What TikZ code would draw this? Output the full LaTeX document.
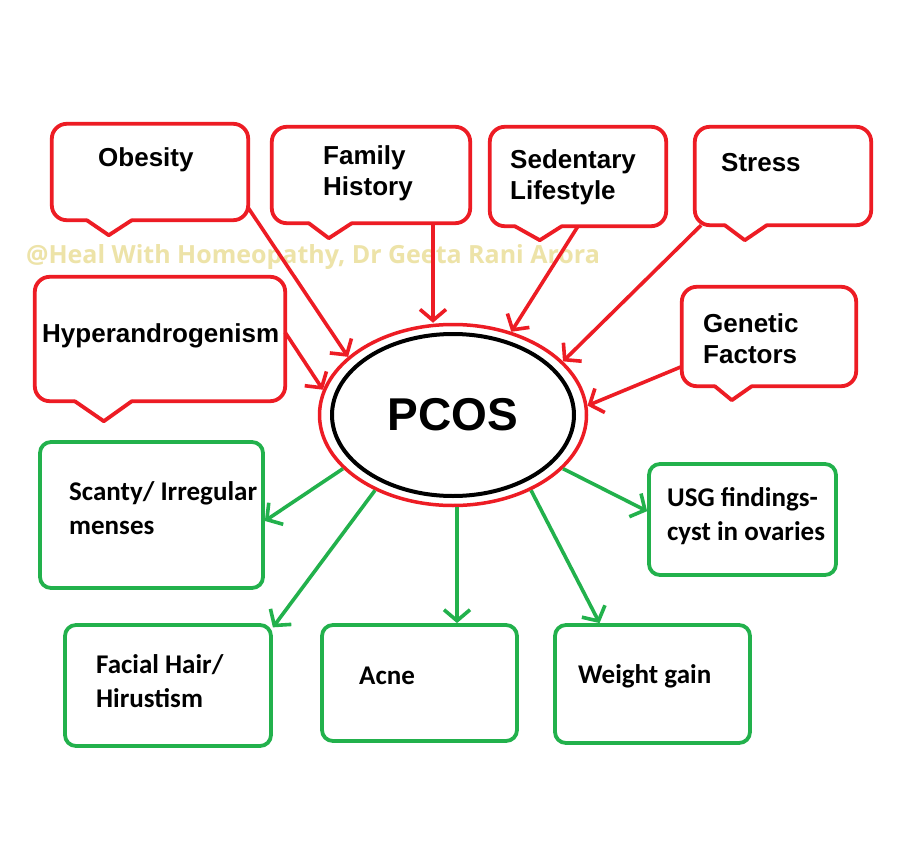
\documentclass[tikz,border=0pt]{standalone}
\usepackage{fontspec}
\setmainfont{Liberation Sans}
\newfontfamily\calibrifont{Carlito}
\newfontfamily\markfont{Open Sans}
\usetikzlibrary{arrows.meta,shapes.geometric}

\definecolor{paintred}{RGB}{237,28,36}
\definecolor{paintgreen}{RGB}{34,177,76}
\definecolor{markcolor}{RGB}{237,227,168}

% outline of a red speech bubble round an empty node: #2 left of tail, #3 tip, #4 right of tail, #5 depth
\newcommand{\calloutframe}[5]{%
  \draw[bubble line] ([xshift=#4pt]#1.south west) -- (#1.south east) -- (#1.north east) -- (#1.north west) -- (#1.south west) -- ([xshift=#2pt]#1.south west);
  \draw[bubble line, sharp corners] ([xshift=#2pt]#1.south west) -- ([xshift=#3pt,yshift=-#5pt]#1.south west) -- ([xshift=#4pt]#1.south west);}

\begin{document}
\begin{tikzpicture}[x=1pt, y=-1pt,
    bubble line/.style={paintred, line width=3.8pt, rounded corners=15pt, line cap=round, line join=round},
    cause box/.style={rectangle, inner sep=0pt},
    effect box/.style={rectangle, draw=paintgreen, line width=3.8pt, rounded corners=11pt, inner sep=0pt},
    cause text/.style={font=\bfseries\fontsize{26}{31}\selectfont, align=left, anchor=west, inner sep=0pt},
    effect text/.style={font=\calibrifont\bfseries\fontsize{27}{34}\selectfont, align=left, anchor=west, inner sep=0pt},
    cause arrow/.style={paintred, line width=3.6pt, -{Straight Barb[length=11pt,width=26pt]}},
    effect arrow/.style={paintgreen, line width=3.6pt, -{Straight Barb[length=11pt,width=26pt]}}]

  % page
  \path[use as bounding box, fill=white] (0,0) rectangle (900,867);

  % watermark
  \node[font=\markfont\bfseries\fontsize{25}{30}\selectfont, text=markcolor, inner sep=0pt] (mark) at (313,257) {@Heal With Homeopathy, Dr Geeta Rani Arora};

  % causes
  \node[cause box, minimum width=196pt, minimum height=96pt] (obesity) at (150,172) {};
  \node[cause box, minimum width=198pt, minimum height=96pt] (family) at (371,175) {};
  \node[cause box, minimum width=250pt, minimum height=124pt] (hyper) at (160,339) {};
  \node[cause box, minimum width=176pt, minimum height=99pt] (sedentary) at (578,176.5) {};
  \node[cause box, minimum width=176pt, minimum height=98pt] (stress) at (783,176) {};
  \node[cause box, minimum width=174pt, minimum height=99pt] (genetic) at (769,336.5) {};
  \calloutframe{obesity}{35}{57}{80}{15}
  \calloutframe{family}{37}{57}{80}{15}
  \calloutframe{hyper}{40}{69}{97}{20}
  \calloutframe{sedentary}{25}{50}{72}{14}
  \calloutframe{stress}{30}{50}{72}{15}
  \calloutframe{genetic}{33}{50}{70}{14}

  \node[cause text] (obesity-text) at (98,160) {Obesity};
  \node[cause text] (family-text) at (323,173) {Family\\History};
  \node[cause text] (hyper-text) at (42,336) {Hyperandrogenism};
  \node[cause text] (sedentary-text) at (510,177) {Sedentary\\Lifestyle};
  \node[cause text] (stress-text) at (721,162.5) {Stress};
  \node[cause text] (genetic-text) at (703,338.5) {Genetic\\Factors};

  % centre
  \node[ellipse, draw=paintred, line width=3.5pt, inner sep=0pt, minimum width=267pt, minimum height=181pt,
        font=\bfseries\fontsize{46}{50}\selectfont] (pcos) at (453,415) {PCOS};
  \draw[line width=4pt] (pcos.center) ellipse [x radius=121pt, y radius=81pt];

  % effects
  \node[effect box, minimum width=223pt, minimum height=146pt] (scanty) at (151.5,515) {};
  \node[effect box, minimum width=187pt, minimum height=111pt] (usg) at (742.5,519.5) {};
  \node[effect box, minimum width=206pt, minimum height=121pt] (facial) at (168,685.5) {};
  \node[effect box, minimum width=195pt, minimum height=116pt] (acne) at (419.5,683) {};
  \node[effect box, minimum width=195pt, minimum height=118pt] (weight) at (652.5,684) {};

  \node[effect text] (scanty-text) at (69,508.5) {Scanty/ Irregular\\menses};
  \node[effect text] (usg-text) at (667,516) {USG findings-\\cyst in ovaries};
  \node[effect text] (facial-text) at (96,681) {Facial Hair/\\Hirustism};
  \node[effect text] (acne-text) at (359,675.5) {Acne};
  \node[effect text] (weight-text) at (578,676) {Weight gain};

  % arrows into PCOS
  \draw[cause arrow] (obesity.-20) -- (pcos.151);
  \draw[cause arrow] ([xshift=62pt]family.south) -- ([xshift=62pt]family.south |- pcos.north);
  \draw[cause arrow] (hyper.3) -- (pcos.169);
  \draw[cause arrow] (sedentary.south) -- (pcos.55);
  \draw[cause arrow] (stress.211) -- (pcos.26);
  \draw[cause arrow] (genetic.199) -- (pcos.4);

  % arrows out of PCOS
  \draw[effect arrow] (pcos.206) -- (scanty.-3);
  \draw[effect arrow] (pcos.224) -- (facial.29);
  \draw[effect arrow] ([xshift=4pt]pcos.south) -- ([xshift=4pt]pcos.south |- acne.north);
  \draw[effect arrow] (pcos.316) -- (weight.131);
  \draw[effect arrow] (pcos.334) -- (usg.175);
\end{tikzpicture}
\end{document}
